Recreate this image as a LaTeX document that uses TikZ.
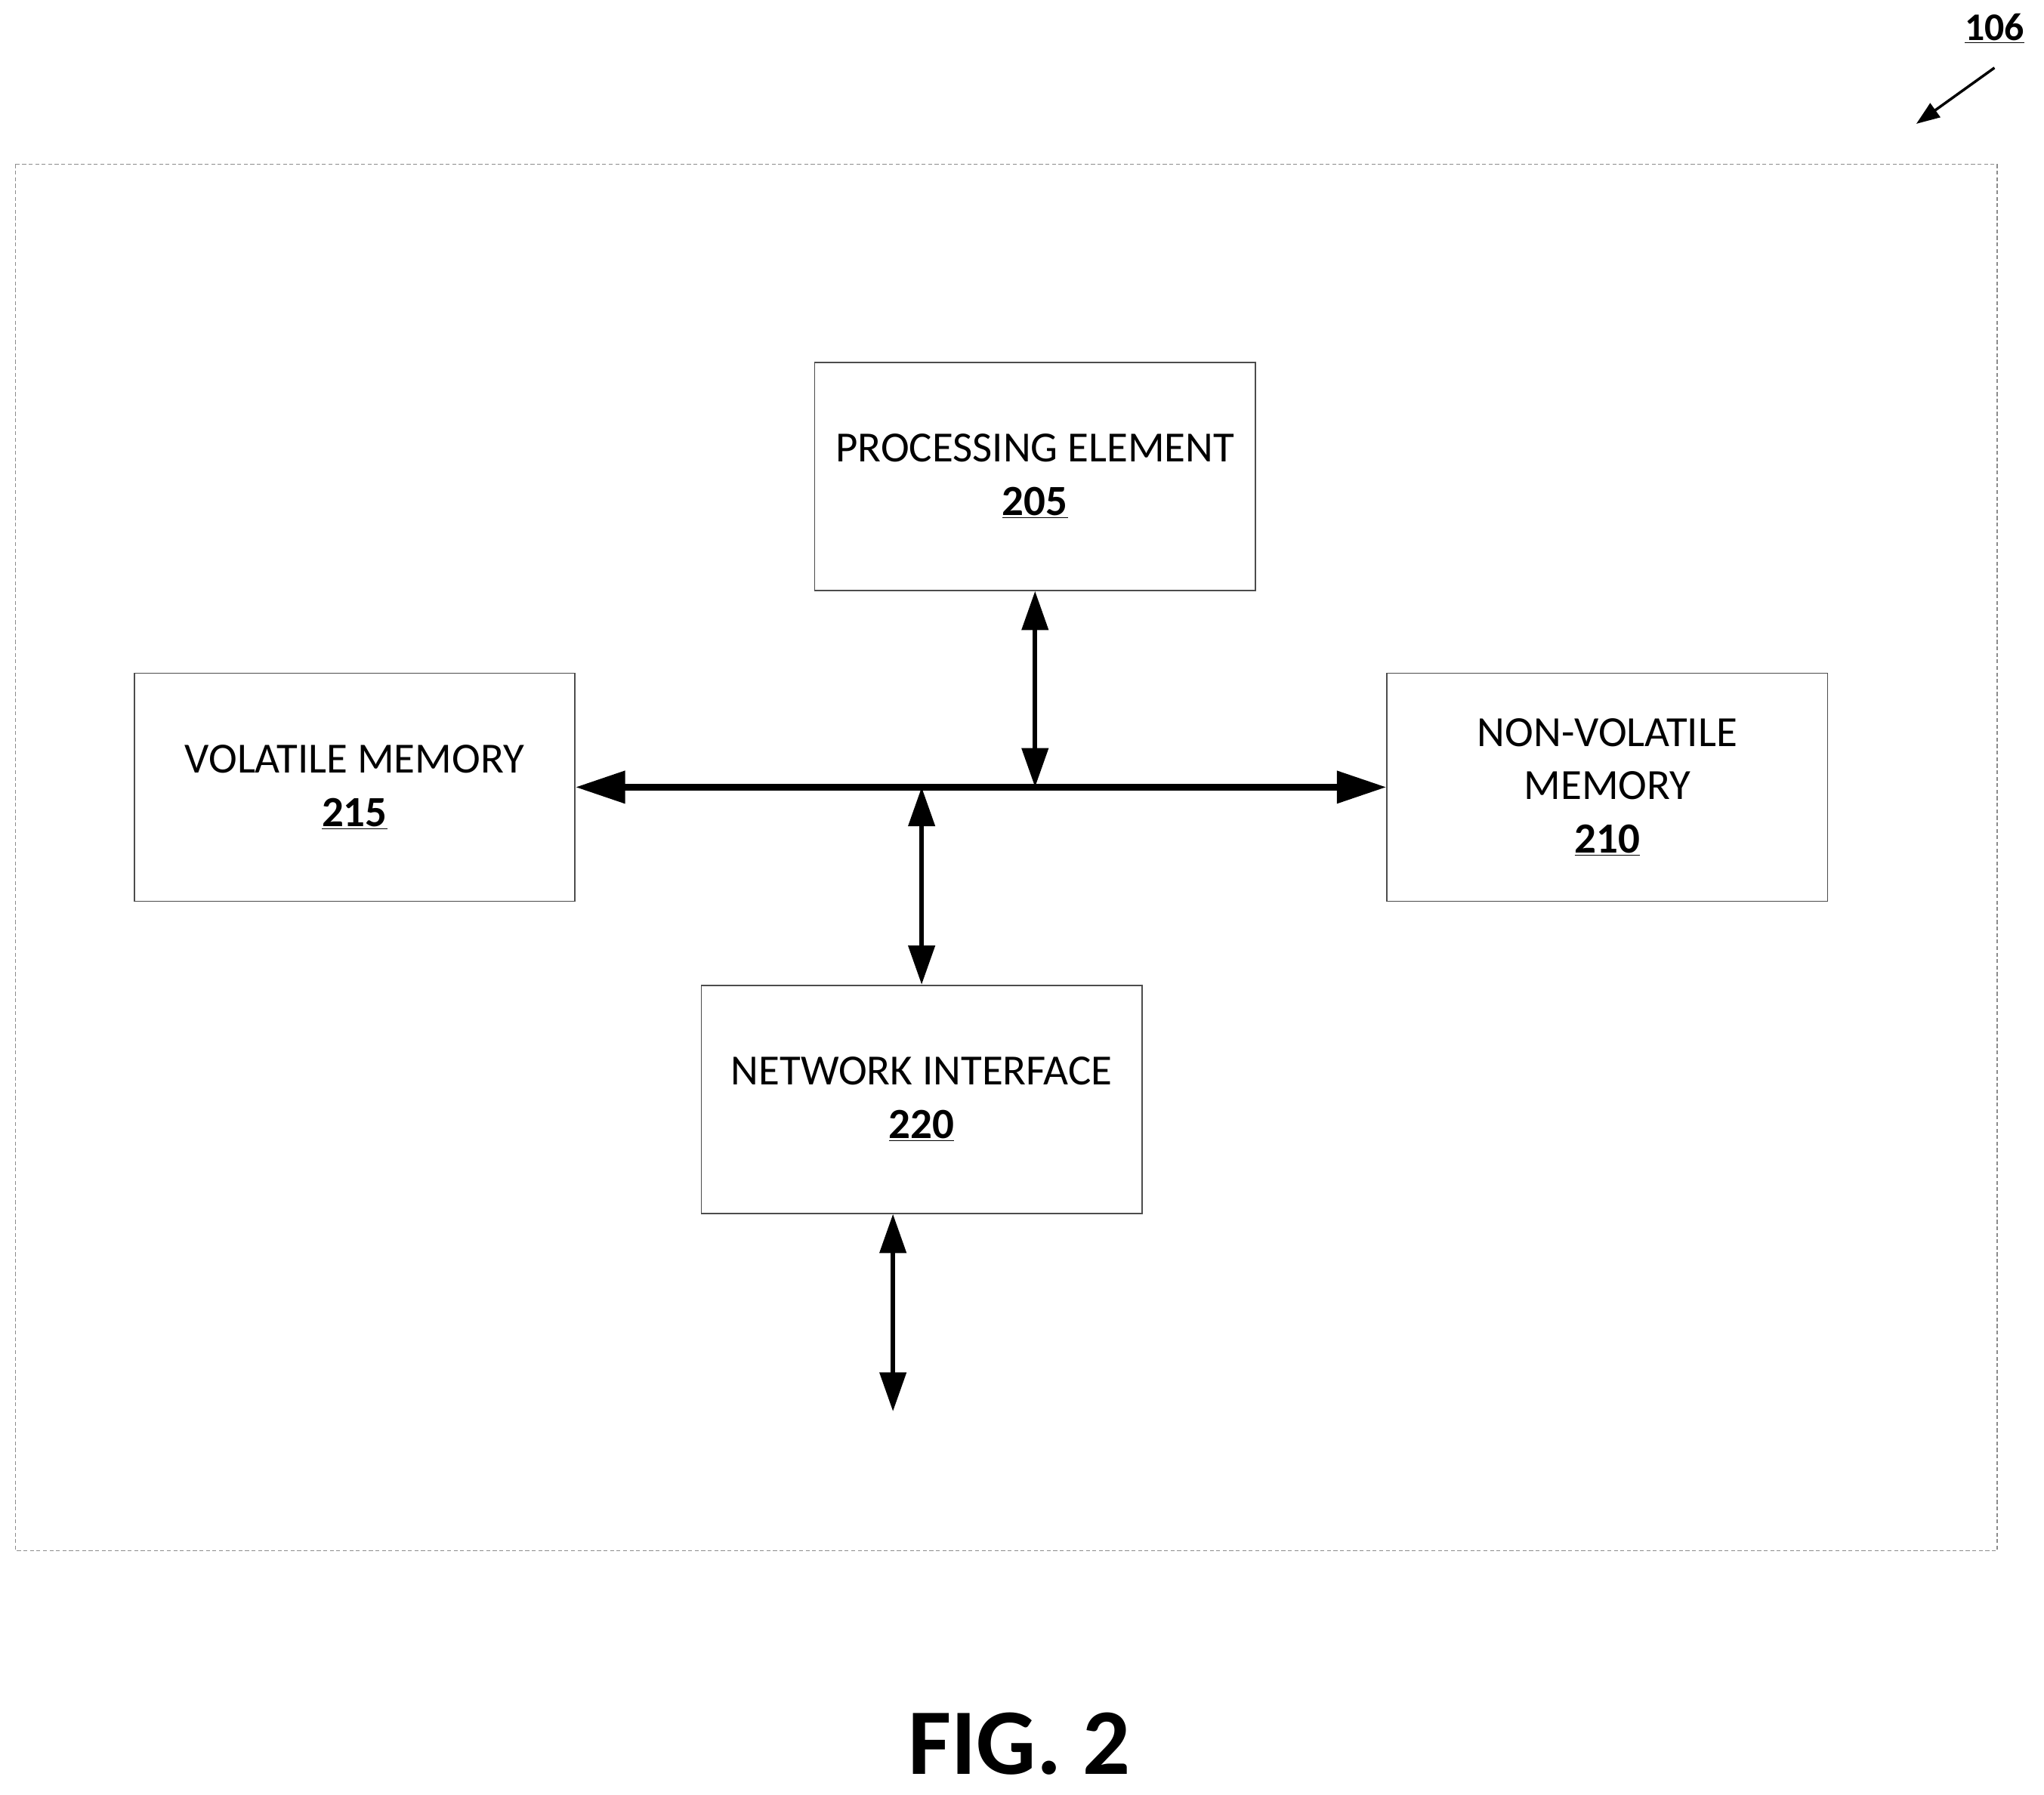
\documentclass[tikz,border=0pt]{standalone}
\usepackage{fontspec}
\setmainfont{Carlito}
\usetikzlibrary{arrows.meta}
\begin{document}
\begin{tikzpicture}[x=1pt,y=-1pt,
  box/.style={draw=black!70,line width=1pt,minimum width=338pt,minimum height=175pt,align=center,font=\fontsize{33}{41}\selectfont,inner sep=0pt},
  bus/.style={line width=5pt,{Triangle[length=38pt,width=24pt]}-{Triangle[length=38pt,width=24pt]}},
  link/.style={line width=3.5pt,{Triangle[length=30pt,width=20pt]}-{Triangle[length=30pt,width=20pt]}}]
\useasboundingbox (0,0) rectangle (1568,1377);
\draw[black!45,dashed,line width=0.8pt,dash pattern=on 3pt off 2pt] (12,126) rectangle (1532,1190);
\node[box] (pe) at (794,365.5) {PROCESSING ELEMENT\\\textbf{\underline{205}}};
\node[box] (vm) at (272,604) {VOLATILE MEMORY\\\textbf{\underline{215}}};
\node[box] (nv) at (1233,604) {NON-VOLATILE\\MEMORY\\\textbf{\underline{210}}};
\node[box] (ni) at (707,843.5) {NETWORK INTERFACE\\\textbf{\underline{220}}};
\coordinate (j1) at (794,604);
\coordinate (j2) at (707,604);
\coordinate (ext) at (685,1083);
\draw[bus] (vm.east) -- (nv.west);
\draw[link] (pe.south) -- (j1);
\draw[link] (j2) -- (ni.north);
\draw[link] (ni.south -| ext) -- (ext);
\node[font=\fontsize{30}{30}\selectfont\bfseries] (lbl) at (1530,22) {\underline{106}};
\coordinate (tip) at (1470,95);
\draw[line width=2pt,-{Triangle[length=18pt,width=13pt]}] (1530,52) -- (tip);
\node[font=\fontsize{72}{76}\selectfont\bfseries] (fig) at (782,1338) {FIG. 2};
\end{tikzpicture}
\end{document}
